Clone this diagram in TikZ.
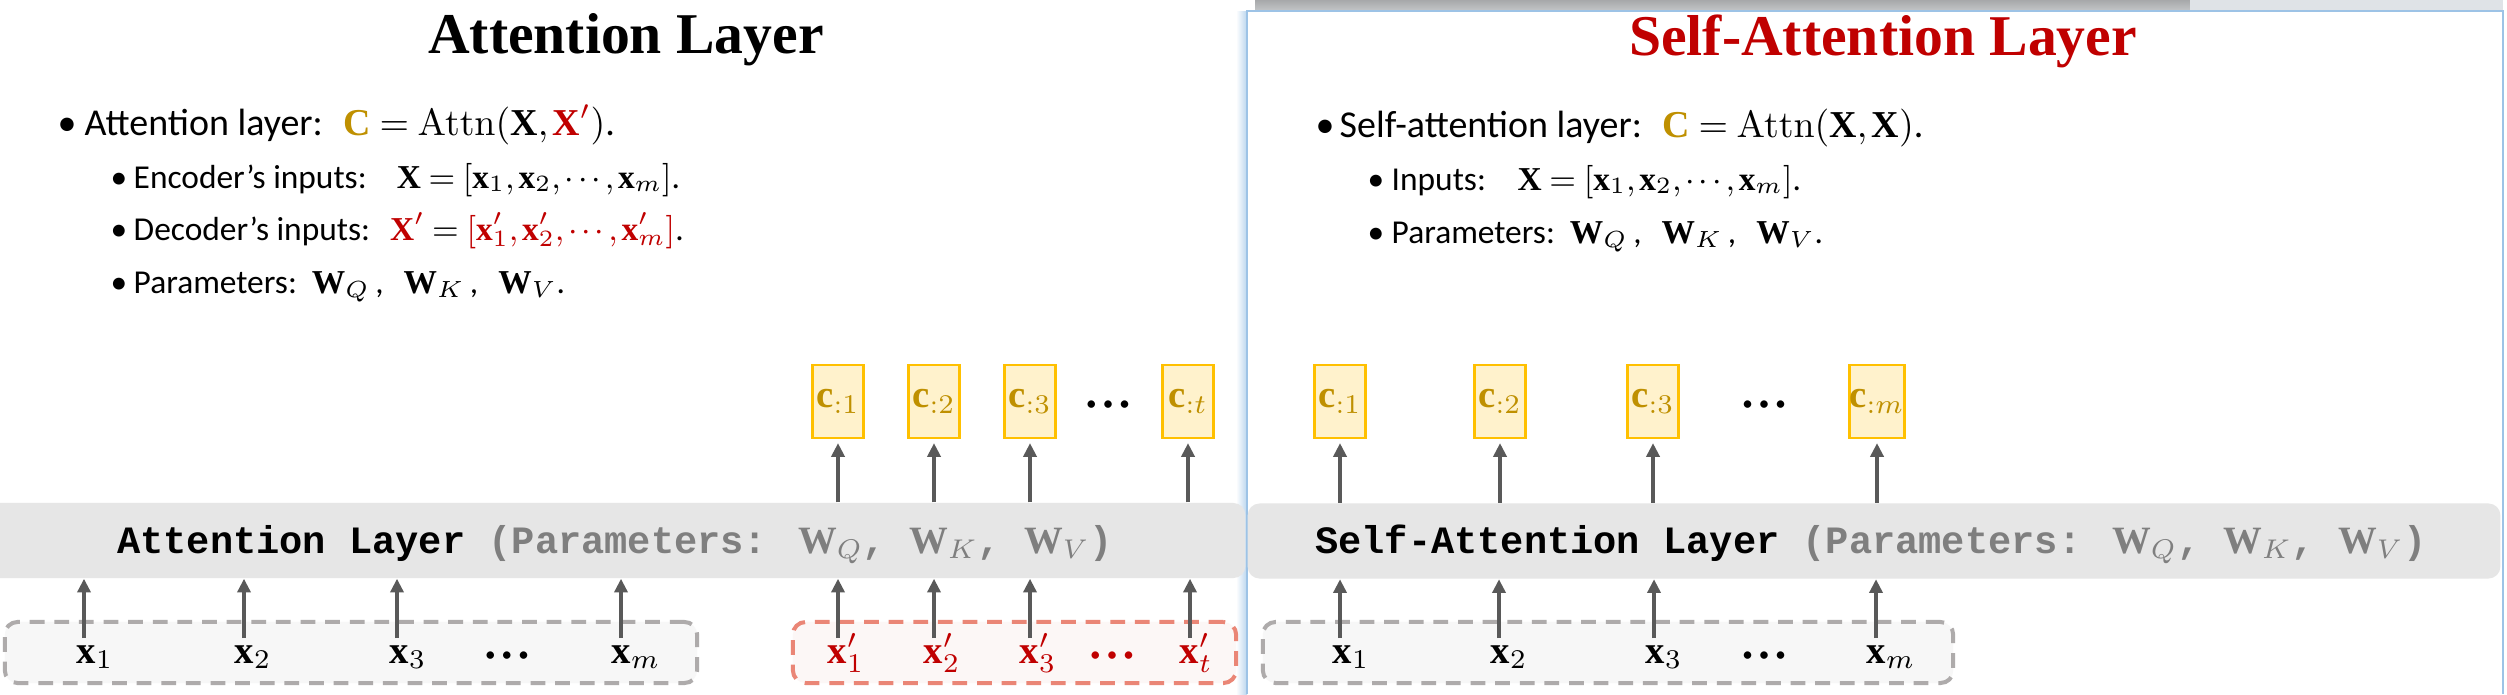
\RequirePackage{fix-cm}
\documentclass[tikz,border=0pt]{standalone}
\usepackage[no-math]{fontspec}
\setmainfont{Carlito}
\newfontfamily\titlefont{Liberation Serif}
\newfontfamily\serifbf{Liberation Serif}
\newfontfamily\monofont{Liberation Mono}
\newcommand{\bv}[1]{\mbox{\serifbf\bfseries #1}}
\usetikzlibrary{arrows.meta}
\definecolor{cgold}{HTML}{BF9000}
\definecolor{cred}{HTML}{C00000}
\definecolor{txtgray}{HTML}{7F7F7F}
\definecolor{barfill}{HTML}{E6E6E6}
\definecolor{dashgray}{HTML}{AEABAB}
\definecolor{dashfill}{HTML}{F7F7F7}
\definecolor{dashred}{HTML}{EA8676}
\definecolor{redfill}{HTML}{FCF7F6}
\definecolor{cfill}{HTML}{FFF2CC}
\definecolor{cdraw}{HTML}{FFC000}
\definecolor{arrgray}{HTML}{595959}
\definecolor{panelblue}{HTML}{9DC3E6}
\definecolor{stripdark}{HTML}{C4C6C8}
\definecolor{striplight}{HTML}{DFE3E7}
\newcommand{\tightmath}{\thickmuskip=4mu\medmuskip=2mu\thinmuskip=2mu}
\tikzset{
  titlestyle/.style={inner sep=0pt, font=\titlefont\bfseries\fontsize{16.4pt}{20pt}\selectfont},
  lvlone/.style={inner sep=0pt, anchor=base west, font=\fontsize{10.8pt}{13pt}\selectfont\tightmath},
  lvltwo/.style={inner sep=0pt, anchor=base west, font=\fontsize{9.5pt}{12pt}\selectfont\tightmath},
  barbox/.style={fill=barfill, rounded corners=3.4pt, minimum height=0.75cm, inner sep=0pt},
  bartext/.style={inner sep=0pt, anchor=base, font=\monofont\bfseries\fontsize{11pt}{13pt}\selectfont},
  cbox/.style={draw=cdraw, fill=cfill, line width=0.7pt, minimum width=0.51cm, minimum height=0.73cm, inner sep=0pt, text=cgold, font=\fontsize{11pt}{13pt}\selectfont},
  dotsnode/.style={inner sep=0pt, anchor=base, font=\fontsize{6pt}{8pt}\selectfont},
  xlab/.style={inner sep=0pt, anchor=base west, font=\fontsize{11pt}{13pt}\selectfont},
  arr/.style={draw=arrgray, line width=1.14pt, -{Triangle[width=3.7pt,length=3.9pt]}},
  dashbox/.style={dash pattern=on 4.2pt off 2.8pt, line width=1.14pt, rounded corners=3.6pt, minimum height=0.61cm, inner sep=0pt},
}
\newcommand{\tridots}{\makebox[4.7pt]{\textbullet}\makebox[4.7pt]{\textbullet}\makebox[4.7pt]{\textbullet}}
\begin{document}
\begin{tikzpicture}[x=0.01cm, y=-0.01cm]
\path[use as bounding box] (0,0) rectangle (2507,694);
\clip (0,0) rectangle (2507,694);
\fill[white] (0,0) rectangle (2507,694);
% right panel frame
\shade[left color=white, right color=panelblue!70] (1236,11) rectangle (1247,694);
\shade[top color=stripdark!85!black, bottom color=stripdark] (1255,0) rectangle (2190,11);
\fill[striplight] (2190,0) rectangle (2503,11);
\draw[panelblue, line width=0.8pt] (1247,694) -- (1247,11) -- (2503,11) -- (2503,694);

% titles
\node[titlestyle, anchor=base] (titleL) at (626,54) {Attention Layer};
\node[titlestyle, anchor=base, text=cred] (titleR) at (1883,55) {Self-Attention Layer};

% left bullets
\node[lvlone] (bL1) at (57,135) {\textbullet};
\node[lvlone] (tL1) at (84,135) {Attention layer:\hspace{0.55em}$\textcolor{cgold}{\bv{C}}=\mathrm{Attn}(\bv{X},\textcolor{cred}{\bv{X}'})$.};
\node[lvltwo] (bL2) at (110,188) {\textbullet};
\node[lvltwo] (tL2) at (133,188) {Encoder’s inputs:\hspace{0.9em}$\bv{X}=[\bv{x}_1,\bv{x}_2,\cdots,\bv{x}_m]$.};
\node[lvltwo] (bL3) at (110,240) {\textbullet};
\node[lvltwo] (tL3) at (133,240) {Decoder’s inputs:\hspace{0.6em}$\textcolor{cred}{\bv{X}'}=\textcolor{cred}{[\bv{x}'_1,\bv{x}'_2,\cdots,\bv{x}'_m]}$.};
\node[lvltwo] (bL4) at (110,293) {\textbullet};
\node[lvltwo] (tL4) at (133,293) {Parameters:\hspace{0.45em}$\bv{W}_Q$\,,\hspace{0.6em}$\bv{W}_K$\,,\hspace{0.6em}$\bv{W}_V$.};

% right bullets
\node[lvlone] (bR1) at (1315,137) {\textbullet};
\node[lvlone] (tR1) at (1339,137) {Self-attention layer:\hspace{0.55em}$\textcolor{cgold}{\bv{C}}=\mathrm{Attn}(\bv{X},\bv{X})$.};
\node[lvltwo] (bR2) at (1367,190) {\textbullet};
\node[lvltwo] (tR2) at (1391,190) {Inputs:\hspace{0.95em}$\bv{X}=[\bv{x}_1,\bv{x}_2,\cdots,\bv{x}_m]$.};
\node[lvltwo] (bR3) at (1367,243) {\textbullet};
\node[lvltwo] (tR3) at (1391,243) {Parameters:\hspace{0.45em}$\bv{W}_Q$\,,\hspace{0.6em}$\bv{W}_K$\,,\hspace{0.6em}$\bv{W}_V$.};

% bars
\node[barbox, minimum width=12.65cm] (barL) at (612.5,540.5) {};
\node[barbox, minimum width=12.52cm] (barR) at (1874,541) {};
\node[bartext] (barLtxt) at (615,553) {Attention Layer \textcolor{txtgray}{(Parameters: $\bv{W}_Q$, $\bv{W}_K$, $\bv{W}_V$)}};
\node[bartext] (barRtxt) at (1871,553) {Self-Attention Layer \textcolor{txtgray}{(Parameters: $\bv{W}_Q$, $\bv{W}_K$, $\bv{W}_V$)}};

% dashed input boxes
\node[dashbox, draw=dashgray, fill=dashfill, minimum width=6.92cm] (inL) at (351,652.5) {};
\node[dashbox, draw=dashred, fill=redfill, minimum width=4.43cm] (inD) at (1014.5,652.5) {};
\node[dashbox, draw=dashgray, fill=dashfill, minimum width=6.90cm] (inR) at (1608,652.5) {};

% left outputs
\node[cbox] (cL1) at (838,401.5) {$\bv{c}_{:1}$};
\node[cbox] (cL2) at (934,401.5) {$\bv{c}_{:2}$};
\node[cbox] (cL3) at (1030,401.5) {$\bv{c}_{:3}$};
\node[dotsnode] (cLd) at (1108,410) {\tridots};
\node[cbox] (cLt) at (1188,401.5) {$\bv{c}_{:t}$};

% right outputs
\node[cbox] (cR1) at (1340,401.5) {$\bv{c}_{:1}$};
\node[cbox] (cR2) at (1500,401.5) {$\bv{c}_{:2}$};
\node[cbox] (cR3) at (1653,401.5) {$\bv{c}_{:3}$};
\node[dotsnode] (cRd) at (1764,410) {\tridots};
\node[cbox] (cRm) at (1877,401.5) {$\bv{c}_{:m}$};

% left encoder inputs
\node[xlab] (xL1) at (76,663) {$\bv{x}_1$};
\node[xlab] (xL2) at (234,663) {$\bv{x}_2$};
\node[xlab] (xL3) at (389,663) {$\bv{x}_3$};
\node[dotsnode] (xLd) at (507,661) {\tridots};
\node[xlab] (xLm) at (611,663) {$\bv{x}_m$};
% decoder inputs
\node[xlab, text=cred] (xD1) at (827,663) {$\bv{x}'_1$};
\node[xlab, text=cred] (xD2) at (923,663) {$\bv{x}'_2$};
\node[xlab, text=cred] (xD3) at (1019,663) {$\bv{x}'_3$};
\node[dotsnode, text=cred] (xDd) at (1112,661) {\tridots};
\node[xlab, text=cred] (xDt) at (1179,663) {$\bv{x}'_t$};
% right inputs
\node[xlab] (xR1) at (1332,663) {$\bv{x}_1$};
\node[xlab] (xR2) at (1490,663) {$\bv{x}_2$};
\node[xlab] (xR3) at (1645,663) {$\bv{x}_3$};
\node[dotsnode] (xRd) at (1764,661) {\tridots};
\node[xlab] (xRm) at (1866,663) {$\bv{x}_m$};

% arrow start points
\coordinate (aL1) at (84,638);
\coordinate (aL2) at (244,638);
\coordinate (aL3) at (397,638);
\coordinate (aLm) at (621,638);
\coordinate (aD1) at (838,638);
\coordinate (aD2) at (934,638);
\coordinate (aD3) at (1030,638);
\coordinate (aDt) at (1190,638);
\coordinate (aR1) at (1340,638);
\coordinate (aR2) at (1499,638);
\coordinate (aR3) at (1654,638);
\coordinate (aRm) at (1876,638);
\foreach \a in {aL1,aL2,aL3,aLm,aD1,aD2,aD3,aDt}{
  \draw[arr] (\a) -- (\a |- barL.south);
}
\foreach \a in {aR1,aR2,aR3,aRm}{
  \draw[arr] (\a) -- (\a |- barR.south);
}
\foreach \c in {cL1,cL2,cL3,cLt}{
  \draw[arr, shorten >=1.1pt] (\c.south |- barL.north) -- (\c.south);
}
\foreach \c in {cR1,cR2,cR3,cRm}{
  \draw[arr, shorten >=1.1pt] (\c.south |- barR.north) -- (\c.south);
}
\end{tikzpicture}
\end{document}
